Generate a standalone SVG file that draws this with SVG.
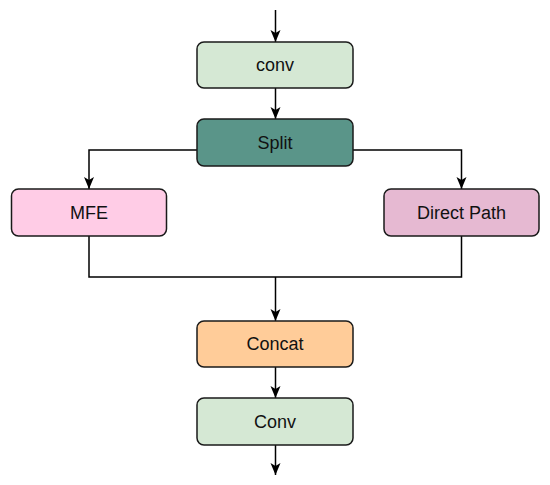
<svg xmlns="http://www.w3.org/2000/svg" width="550" height="485" viewBox="0 0 550 485">
<style>
.box{stroke:#1a1a1a;stroke-width:1.5}
.lbl{font-family:"Liberation Sans",Arial,sans-serif;font-size:18px;fill:#111;text-anchor:middle;dominant-baseline:central}
.ln{fill:none;stroke:#000;stroke-width:1.5}
</style>
<defs>
<marker id="ah" viewBox="0 0 12 10" refX="12" refY="5" markerWidth="12" markerHeight="11" markerUnits="userSpaceOnUse" orient="auto">
<path d="M0,0 L12,5 L0,10 L3,5 Z" fill="#000"/>
</marker>
</defs>
<rect width="550" height="485" fill="#fff"/>
<g id="connectors">
<line class="ln" x1="275.5" y1="10" x2="275.5" y2="42" marker-end="url(#ah)"/>
<line class="ln" x1="275.5" y1="88" x2="275.5" y2="119" marker-end="url(#ah)"/>
<polyline class="ln" points="197,150 89,150 89,189" marker-end="url(#ah)"/>
<polyline class="ln" points="353,150 461.5,150 461.5,189" marker-end="url(#ah)"/>
<polyline class="ln" points="89,236 89,277 461.5,277 461.5,236"/>
<line class="ln" x1="275.5" y1="277" x2="275.5" y2="321" marker-end="url(#ah)"/>
<line class="ln" x1="275.5" y1="367" x2="275.5" y2="398" marker-end="url(#ah)"/>
<line class="ln" x1="275.5" y1="445" x2="275.5" y2="475" marker-end="url(#ah)"/>
</g>
<g id="conv1"><rect class="box" x="197" y="42" width="156" height="46" rx="7" fill="#d5e8d4"/><text class="lbl" x="275" y="65">conv</text></g>
<g id="split"><rect class="box" x="197" y="119" width="156" height="47" rx="7" fill="#5a9589"/><text class="lbl" x="275" y="142.5">Split</text></g>
<g id="mfe"><rect class="box" x="11.5" y="189" width="155" height="47" rx="7" fill="#ffcce6"/><text class="lbl" x="89" y="212.5">MFE</text></g>
<g id="direct"><rect class="box" x="384" y="189" width="155" height="47" rx="7" fill="#e6b9d2"/><text class="lbl" x="461.5" y="212.5">Direct Path</text></g>
<g id="concat"><rect class="box" x="197" y="321" width="156" height="46" rx="7" fill="#ffcc99"/><text class="lbl" x="275" y="344">Concat</text></g>
<g id="conv2"><rect class="box" x="197" y="398" width="156" height="47" rx="7" fill="#d5e8d4"/><text class="lbl" x="275" y="421.5">Conv</text></g>
</svg>
